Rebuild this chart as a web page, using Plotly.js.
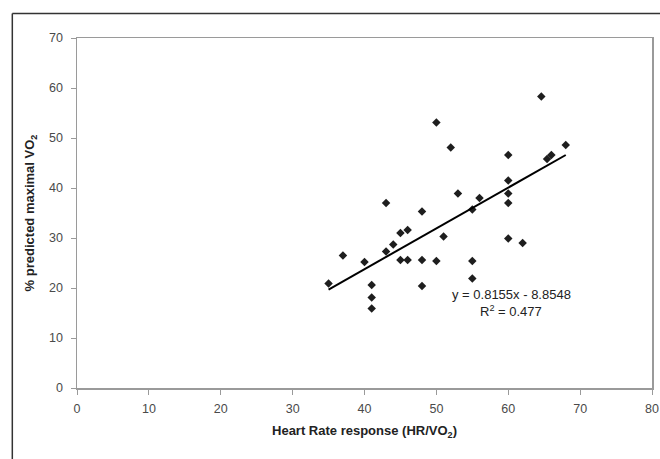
<!DOCTYPE html>
<html>
<head>
<meta charset="utf-8">
<script src="https://cdn.plot.ly/plotly-3.0.1.min.js"></script>
<style>
  html, body { margin: 0; padding: 0; background: #fff; }
  #chart { width: 660px; height: 459px; }
</style>
</head>
<body>
<div id="chart"></div>
<script>
// Data
const hrResponse = [35, 37, 40, 41, 41, 41, 43, 43, 44, 45, 45, 46, 46, 48, 48, 48, 50, 50, 51, 52, 53, 55, 55, 55, 56, 60, 60, 60, 60, 60, 62, 64.6, 65.4, 66, 68];
const predictedVO2 = [20.9, 26.5, 25.2, 20.6, 18.1, 15.9, 37, 27.3, 28.7, 31, 25.6, 31.6, 25.6, 35.3, 25.6, 20.4, 53.1, 25.4, 30.3, 48.1, 38.9, 35.7, 25.4, 21.9, 38, 46.6, 41.5, 38.9, 37, 29.9, 29, 58.3, 45.8, 46.6, 48.6];

// Trend line (as printed on the chart)
const slope = 0.8155;
const intercept = -8.8548;
const rSquared = 0.477;

const xMin = Math.min(...hrResponse);
const xMax = Math.max(...hrResponse);
const trendX = [xMin, xMax];
const trendY = trendX.map(x => slope * x + intercept);

const xTicks = [0, 10, 20, 30, 40, 50, 60, 70, 80];
const yTicks = [0, 10, 20, 30, 40, 50, 60, 70];

const FONT = 'Liberation Sans, Arial, sans-serif';

const traces = [
  {
    x: hrResponse, y: predictedVO2,
    type: 'scatter', mode: 'markers',
    marker: { symbol: 'diamond', size: 6.5, color: '#1e1e1e' },
    hoverinfo: 'x+y', showlegend: false
  },
  {
    x: trendX, y: trendY,
    type: 'scatter', mode: 'lines',
    line: { color: '#000', width: 2 },
    hoverinfo: 'skip', showlegend: false
  }
];

const axisCommon = {
  showgrid: false, zeroline: false,
  showline: true, linecolor: '#9a9a9a', linewidth: 1.5,
  mirror: true,
  ticks: 'outside', ticklen: 5, tickwidth: 1, tickcolor: '#9a9a9a',
  tickfont: { family: FONT, size: 12.5, color: '#4a4a4a' },
  fixedrange: true
};

const layout = {
  width: 660, height: 459,
  margin: { l: 77, r: 8, t: 38, b: 71 },
  paper_bgcolor: '#fff', plot_bgcolor: '#fff',
  font: { family: FONT, color: '#222' },
  xaxis: Object.assign({}, axisCommon, {
    range: [0, 80], tickvals: xTicks, ticktext: xTicks.map(String),
    ticklabelstandoff: 3,
    title: { text: '<b>Heart Rate response (HR/VO<sub>2</sub>)</b>', font: { family: FONT, size: 13, color: '#222' }, standoff: 11 }
  }),
  yaxis: Object.assign({}, axisCommon, {
    range: [0, 70], tickvals: yTicks, ticktext: yTicks.map(String),
    ticklabelstandoff: 5,
    title: { text: '<b>% predicted maximal VO<sub>2</sub></b>', font: { family: FONT, size: 13, color: '#222' }, standoff: 11 }
  }),
  annotations: [
    {
      xref: 'paper', yref: 'paper', x: 0.755, y: 0.268, xanchor: 'center', yanchor: 'middle',
      text: 'y = ' + slope + 'x - ' + Math.abs(intercept),
      showarrow: false, font: { family: FONT, size: 13, color: '#222' }
    },
    {
      xref: 'paper', yref: 'paper', x: 0.755, y: 0.22, xanchor: 'center', yanchor: 'middle',
      text: 'R<sup>2</sup> = ' + rSquared,
      showarrow: false, font: { family: FONT, size: 13, color: '#222' }
    }
  ],
  shapes: [
    { type: 'line', xref: 'paper', yref: 'paper', x0: -0.1125, x1: -0.1125, y0: 1.07, y1: -0.3, line: { color: '#333', width: 1.5 } },
    { type: 'line', xref: 'paper', yref: 'paper', x0: -0.1125, x1: 1.1, y0: 1.07, y1: 1.07, line: { color: '#333', width: 1.5 } }
  ]
};

Plotly.newPlot('chart', traces, layout, { displayModeBar: false, staticPlot: true });
</script>
</body>
</html>
